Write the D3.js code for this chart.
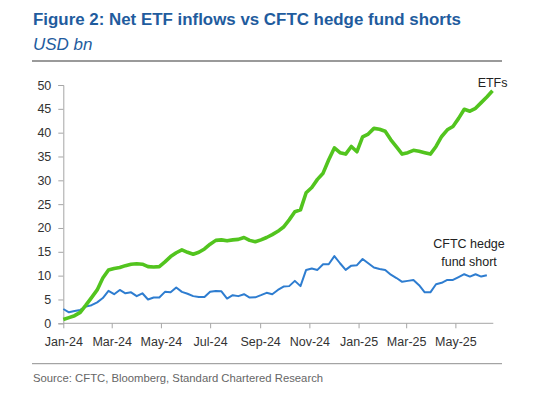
<!DOCTYPE html>
<html>
<head>
<meta charset="utf-8">
<script src="https://cdn.jsdelivr.net/npm/d3@7"></script>
<style>
  html, body { margin: 0; padding: 0; background: #fff; }
  svg { display: block; font-family: "Liberation Sans", Arial, sans-serif; }
</style>
</head>
<body>
<svg id="chart" width="537" height="396"></svg>
<script>
// ---- Data ----
const startWeek = "2024-01-01";   // first weekly observation
const axisEnd = "2025-06-17";
const xTickLabels = ["Jan-24","Mar-24","May-24","Jul-24","Sep-24","Nov-24","Jan-25","Mar-25","May-25"];
const yTickValues = [0,5,10,15,20,25,30,35,40,45,50];

// Net ETF inflows, USD bn (weekly)
const etfValues = [
  0.8, 1.2, 1.6, 2.3, 3.8, 5.4, 7.0, 9.5, 11.2, 11.5,
  11.7, 12.1, 12.4, 12.5, 12.4, 11.9, 11.8, 11.9, 12.9, 14.0,
  14.8, 15.4, 14.9, 14.5, 14.9, 15.6, 16.6, 17.4, 17.5, 17.3,
  17.5, 17.6, 18.0, 17.4, 17.1, 17.5, 18.0, 18.6, 19.3, 20.2,
  21.7, 23.4, 23.8, 27.4, 28.5, 30.2, 31.5, 34.3, 36.8, 35.8,
  35.5, 37.1, 36.0, 39.1, 39.7, 40.9, 40.7, 40.3, 38.5, 37.0,
  35.5, 35.8, 36.3, 36.1, 35.8, 35.5, 37.1, 39.2, 40.6, 41.3,
  43.0, 44.9, 44.5, 45.1, 46.3, 47.5, 48.8
];

// CFTC hedge fund short, USD bn (weekly)
const cftcValues = [
  3.0, 2.3, 2.6, 2.8, 3.5, 3.8, 4.4, 5.3, 6.8, 6.1,
  7.0, 6.3, 6.5, 5.7, 6.3, 5.0, 5.4, 5.4, 6.6, 6.5,
  7.5, 6.6, 6.2, 5.7, 5.5, 5.5, 6.6, 6.8, 6.7, 5.2,
  5.9, 5.7, 6.1, 5.4, 5.45, 5.9, 6.4, 6.1, 7.0, 7.7,
  7.8, 8.9, 7.8, 11.2, 11.5, 11.2, 12.4, 12.4, 14.1, 12.6,
  11.2, 12.1, 12.2, 13.5, 12.6, 11.7, 11.4, 11.2, 10.2, 9.5,
  8.7, 8.9, 9.1, 8.0, 6.5, 6.5, 8.2, 8.5, 9.1, 9.1,
  9.7, 10.3, 9.8, 10.3, 9.8, 10.1
];

const seriesLabels = { etf: ["ETFs"], cftc: ["CFTC hedge", "fund short"] };

// ---- Drawing ----
const svg = d3.select("#chart");
const parse = d3.timeParse("%Y-%m-%d");
const start = parse(startWeek);
const weekDate = i => d3.timeDay.offset(start, 7 * i);

const x = d3.scaleTime().domain([start, parse(axisEnd)]).range([63.3, 493.3]);
const y = d3.scaleLinear().domain([0, 50]).range([323.3, 85]);

const titleColor = "#1f5c9e";
const green = "#52c41e";
const blue = "#2e7dd0";
const axisColor = "#a6a6a6";
const textColor = "#333";

// Title
svg.append("text").attr("x", 33).attr("y", 25)
  .attr("fill", titleColor).attr("font-weight", "bold").attr("font-size", 16.9)
  .text("Figure 2: Net ETF inflows vs CFTC hedge fund shorts");
svg.append("text").attr("x", 33).attr("y", 50)
  .attr("fill", titleColor).attr("font-style", "italic").attr("font-size", 17)
  .text("USD bn");
svg.append("line").attr("x1", 32).attr("x2", 502).attr("y1", 61).attr("y2", 61)
  .attr("stroke", "#9a9a9a").attr("stroke-width", 2);

// Y axis
const yAxis = svg.append("g").attr("transform", "translate(63.3,0)")
  .call(d3.axisLeft(y).tickValues(yTickValues).tickSize(5).tickPadding(7).tickFormat(d3.format("d")));
yAxis.select(".domain").attr("stroke", axisColor);
yAxis.selectAll(".tick line").attr("stroke", axisColor);
yAxis.selectAll("text").attr("fill", textColor).attr("font-size", 12.5)
  .attr("font-family", "Liberation Sans, Arial, sans-serif");

// X axis
const tickDates = xTickLabels.map(s => d3.timeParse("%b-%y")(s));
const xAxis = svg.append("g").attr("transform", "translate(0,323.3)")
  .call(d3.axisBottom(x).tickValues(tickDates).tickSize(5).tickPadding(9)
    .tickFormat((d, i) => xTickLabels[i]));
xAxis.select(".domain").attr("stroke", axisColor).attr("d", "M63.3,0H493.3");
xAxis.selectAll(".tick line").attr("stroke", axisColor);
xAxis.selectAll("text").attr("fill", textColor).attr("font-size", 12.5)
  .attr("font-family", "Liberation Sans, Arial, sans-serif");

// Lines
const line = d3.line().x((d, i) => x(weekDate(i))).y(d => y(d));
svg.append("path").datum(cftcValues).attr("d", line)
  .attr("fill", "none").attr("stroke", blue).attr("stroke-width", 2).attr("stroke-linejoin", "round");
svg.append("path").datum(etfValues).attr("d", line)
  .attr("fill", "none").attr("stroke", green).attr("stroke-width", 3.6).attr("stroke-linejoin", "round");

// Series labels
const lastEtf = etfValues.length - 1;
svg.append("text").attr("x", x(weekDate(lastEtf)) + 15).attr("y", y(etfValues[lastEtf]) - 3.5)
  .attr("text-anchor", "end").attr("fill", "#222").attr("font-size", 12.5)
  .text(seriesLabels.etf[0]);
const lastC = cftcValues.length - 1;
const cl = svg.append("text").attr("text-anchor", "middle").attr("fill", "#222").attr("font-size", 12.5);
seriesLabels.cftc.forEach((t, i) => {
  cl.append("tspan").attr("x", 469).attr("y", y(cftcValues[lastC]) - 27 + i * 17.5).text(t);
});

// Bottom rule and source
svg.append("line").attr("x1", 32).attr("x2", 502).attr("y1", 363.7).attr("y2", 363.7)
  .attr("stroke", "#8f8f8f").attr("stroke-width", 1);
svg.append("text").attr("x", 33).attr("y", 382)
  .attr("fill", "#666").attr("font-size", 11.3)
  .text("Source: CFTC, Bloomberg, Standard Chartered Research");
</script>
</body>
</html>
